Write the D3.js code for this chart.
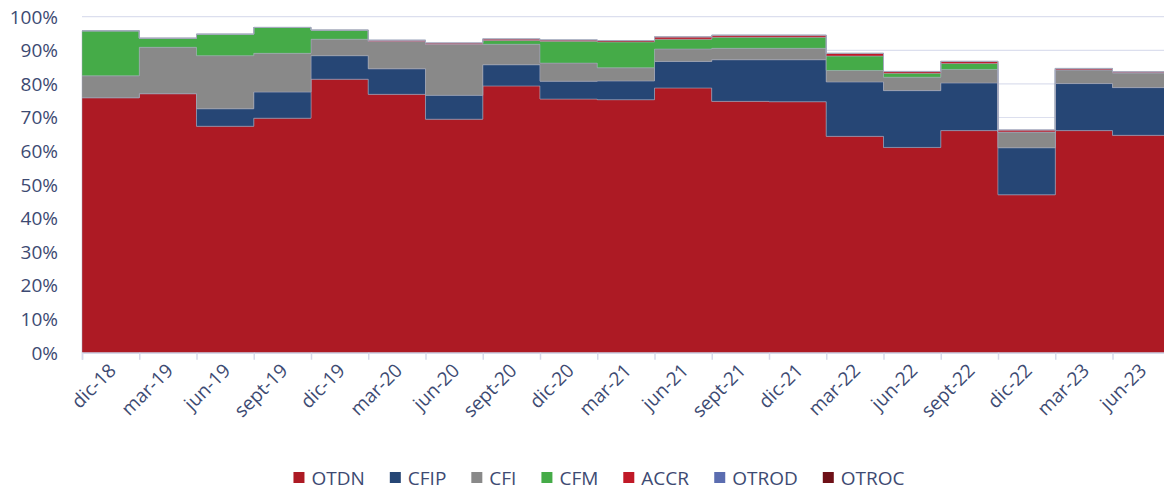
<!DOCTYPE html>
<html>
<head>
<meta charset="utf-8">
<script src="https://cdn.jsdelivr.net/npm/d3@7"></script>
<style>
  body { margin: 0; background: #fff; }
  svg { display: block; font-family: "Open Sans", "Noto Sans", sans-serif; }
</style>
</head>
<body>
<svg width="1164" height="491"></svg>
<script>
// quarters on the x axis
var quarters = ["dic-18","mar-19","jun-19","sept-19","dic-19","mar-20","jun-20","sept-20","dic-20",
  "mar-21","jun-21","sept-21","dic-21","mar-22","jun-22","sept-22","dic-22","mar-23","jun-23"];

// shares in %
var OTDN  = [75.9, 77.1, 67.4, 69.8, 81.4, 76.9, 69.5, 79.4, 75.5, 75.3, 78.8, 74.8, 74.7, 64.4, 61.1, 66.1, 47.0, 66.1, 64.7];
var CFIP  = [0,    0,    5.2,  7.8,  7.0,  7.6,  7.1,  6.3,  5.3,  5.6,  7.9, 12.4, 12.5, 16.2, 16.9, 14.2, 14.0, 14.0, 14.2];
var CFI   = [6.5, 13.8, 15.8, 11.5,  4.9,  8.1, 15.2,  6.1,  5.4,  3.9,  3.7,  3.4,  3.4,  3.4,  4.0,  4.0,  4.7,  4.1,  4.4];
var CFM   = [13.4, 2.7,  6.4,  7.7,  2.7,  0,    0,    1.1,  6.5,  7.7,  2.9,  3.3,  3.3,  4.3,  1.2,  1.8,  0,    0,    0];
var ACCR  = [0,    0,    0,    0,    0,    0.4,  0.4,  0.5,  0.4,  0.4,  0.7,  0.6,  0.6,  0.8,  0.5,  0.6,  0.6,  0.4,  0.3];
var OTROD = [0,0,0,0,0,0,0,0,0,0,0,0,0,0,0,0,0,0,0];
var OTROC = [0,0,0,0,0,0,0,0,0,0,0,0,0,0,0,0,0,0,0];

var seriesNames = ["OTDN","CFIP","CFI","CFM","ACCR","OTROD","OTROC"];
var seriesData  = [OTDN, CFIP, CFI, CFM, ACCR, OTROD, OTROC];
var colors = ["#ad1a24","#264675","#898989","#45ab48","#c01927","#5b6db0","#6e1017"];
var yTicks = [0,10,20,30,40,50,60,70,80,90,100];

var svg = d3.select("svg");
var textColor = "#3d4a72";
var plotLeft = 82, plotBottom = 352.7, plotTop = 16.7, step = 57.25;

var x = d3.scaleLinear().domain([0, quarters.length]).range([plotLeft, plotLeft + step * quarters.length]);
var y = d3.scaleLinear().domain([0, 100]).range([plotBottom, plotTop]);

// rows, one extra at the end so the last step has a width
var rows = quarters.map(function(q, i) {
  var r = { i: i };
  seriesNames.forEach(function(s, k) { r[s] = seriesData[k][i]; });
  return r;
});
var last = Object.assign({}, rows[rows.length - 1]);
last.i = quarters.length;
rows.push(last);

// grid
svg.append("g")
  .selectAll("line")
  .data(yTicks)
  .join("line")
  .attr("x1", plotLeft).attr("x2", 1164)
  .attr("y1", function(d) { return y(d); })
  .attr("y2", function(d) { return y(d); })
  .attr("stroke", "#dcdfee")
  .attr("stroke-width", 1.2);

// stacked step areas
var stack = d3.stack().keys(seriesNames);
var layers = stack(rows);

var area = d3.area()
  .curve(d3.curveStepAfter)
  .x(function(d) { return x(d.data.i); })
  .y0(function(d) { return y(d[0]); })
  .y1(function(d) { return y(d[1]); });

svg.append("g")
  .selectAll("path")
  .data(layers)
  .join("path")
  .attr("d", area)
  .attr("fill", function(d, k) { return colors[k]; })
  .attr("stroke", "#a4a8bd")
  .attr("stroke-opacity", 0.6)
  .attr("stroke-width", 0.8);

// y axis labels
var yAxis = svg.append("g")
  .attr("transform", "translate(" + (plotLeft - 24) + ",0)")
  .call(d3.axisLeft(y).tickValues(yTicks).tickSize(0).tickFormat(function(d) { return d + "%"; }));
yAxis.select(".domain").remove();
yAxis.selectAll("text")
  .attr("x", 0).attr("dy", "0.34em")
  .attr("fill", textColor)
  .style("font-size", "19px")
  .style("font-family", "'Open Sans', sans-serif");

// x axis
var xAxis = svg.append("g")
  .attr("transform", "translate(0," + plotBottom + ")")
  .call(d3.axisBottom(x)
    .tickValues(d3.range(quarters.length + 1))
    .tickSize(7)
    .tickFormat(function(d) { return quarters[d] || ""; }));
xAxis.select(".domain").attr("stroke", "#d6d9ea").attr("stroke-width", 1.5);
xAxis.selectAll(".tick line").attr("stroke", "#d6d9ea").attr("stroke-width", 1.5);
xAxis.selectAll(".tick text")
  .attr("y", 0).attr("dy", 0)
  .attr("text-anchor", "end")
  .attr("transform", "translate(" + (step / 2 + 6) + ",19) rotate(-45)")
  .attr("fill", textColor)
  .style("font-size", "19px")
  .style("font-family", "'Open Sans', sans-serif");

// legend
var legend = svg.append("g").attr("transform", "translate(0,478)");
var items = legend.selectAll("g")
  .data(seriesNames)
  .join("g");
items.append("rect")
  .attr("width", 11).attr("height", 11)
  .attr("y", -6)
  .attr("fill", function(d, k) { return colors[k]; });
items.append("text")
  .attr("x", 18).attr("dy", "0.35em")
  .attr("fill", textColor)
  .style("font-size", "19px")
  .text(function(d) { return d; });

var widths = [];
items.each(function() { widths.push(this.getBBox().width); });
var gap = 25;
var total = d3.sum(widths) + gap * (widths.length - 1);
var cx = 599 - total / 2;
items.attr("transform", function(d, k) {
  var pos = cx;
  cx += widths[k] + gap;
  return "translate(" + pos + ",0)";
});
</script>
</body>
</html>
